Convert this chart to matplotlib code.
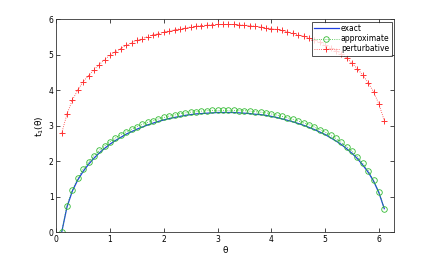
import numpy as np
import matplotlib
matplotlib.use('Agg')
import matplotlib.pyplot as plt

# theta grid (0.1 .. 6.1)
theta = np.round(np.arange(1, 62) * 0.1, 1)

exact = [0.00, 0.72, 1.17, 1.48, 1.72, 1.92, 2.09, 2.24, 2.37, 2.49,
         2.59, 2.68, 2.77, 2.84, 2.91, 2.97, 3.03, 3.08, 3.13, 3.17,
         3.21, 3.24, 3.27, 3.30, 3.32, 3.34, 3.35, 3.36, 3.37, 3.38,
         3.38, 3.38, 3.38, 3.37, 3.36, 3.35, 3.33, 3.32, 3.30, 3.27,
         3.24, 3.20, 3.16, 3.12, 3.07, 3.02, 2.96, 2.90, 2.83, 2.76,
         2.67, 2.58, 2.48, 2.36, 2.23, 2.08, 1.90, 1.70, 1.45, 1.12,
         0.67]

approximate = [0.00, 0.76, 1.21, 1.53, 1.78, 1.98, 2.16, 2.31, 2.44, 2.56,
               2.66, 2.76, 2.84, 2.91, 2.98, 3.05, 3.10, 3.15, 3.20, 3.24,
               3.28, 3.31, 3.35, 3.37, 3.39, 3.40, 3.42, 3.43, 3.44, 3.44,
               3.44, 3.44, 3.44, 3.43, 3.43, 3.42, 3.40, 3.39, 3.37, 3.34,
               3.31, 3.27, 3.23, 3.19, 3.14, 3.09, 3.04, 2.97, 2.90, 2.83,
               2.74, 2.65, 2.54, 2.42, 2.29, 2.13, 1.95, 1.74, 1.48, 1.15,
               0.67]

perturbative = [2.79, 3.34, 3.73, 4.01, 4.25, 4.42, 4.58, 4.73, 4.87, 5.00,
                5.09, 5.18, 5.27, 5.34, 5.41, 5.46, 5.52, 5.57, 5.60, 5.64,
                5.68, 5.71, 5.74, 5.76, 5.79, 5.81, 5.83, 5.84, 5.85, 5.86,
                5.86, 5.86, 5.86, 5.85, 5.84, 5.83, 5.81, 5.79, 5.77, 5.74,
                5.72, 5.69, 5.65, 5.61, 5.57, 5.53, 5.48, 5.42, 5.36, 5.29,
                5.21, 5.12, 5.02, 4.91, 4.77, 4.61, 4.43, 4.22, 3.96, 3.62,
                3.15]

plt.rcParams['font.family'] = ['DejaVu Sans']
plt.rcParams['font.size'] = 5.5

fig = plt.figure(figsize=(4.36, 2.62), dpi=100)
ax = fig.add_axes([0.129, 0.1126, 0.775, 0.813])

ax.plot(theta, exact, '-', color='#2040e0', lw=0.9, label='exact')
ax.plot(theta, approximate, ':', color='#33bb33', lw=0.6, marker='o',
        markersize=4, markerfacecolor='none', markeredgewidth=0.6,
        label='approximate')
ax.plot(theta, perturbative, ':', color='#ff3333', lw=0.6, marker='+',
        markersize=4.5, markeredgewidth=0.7, label='perturbative')

ax.set_xlim(0, 2 * np.pi)
ax.set_ylim(0, 6)
ax.set_xticks(range(0, 7))
ax.set_yticks(range(0, 7))
ax.tick_params(direction='in', top=True, right=True, length=3, width=0.5,
               pad=2, labelsize=5.5)
for s in ax.spines.values():
    s.set_linewidth(0.6)
    s.set_color('#333333')

ax.set_xlabel('θ', fontsize=6.5, labelpad=1)
ax.set_ylabel('t$_1$(θ)', fontsize=6.5, labelpad=2)

leg = ax.legend(loc='upper right', fontsize=5.5, frameon=True, fancybox=False,
                edgecolor='black', borderpad=0.3, labelspacing=0.15,
                handlelength=3.2, handletextpad=0.3, borderaxespad=0.3)
leg.get_frame().set_linewidth(0.6)

fig.savefig('out.png', dpi=100)
